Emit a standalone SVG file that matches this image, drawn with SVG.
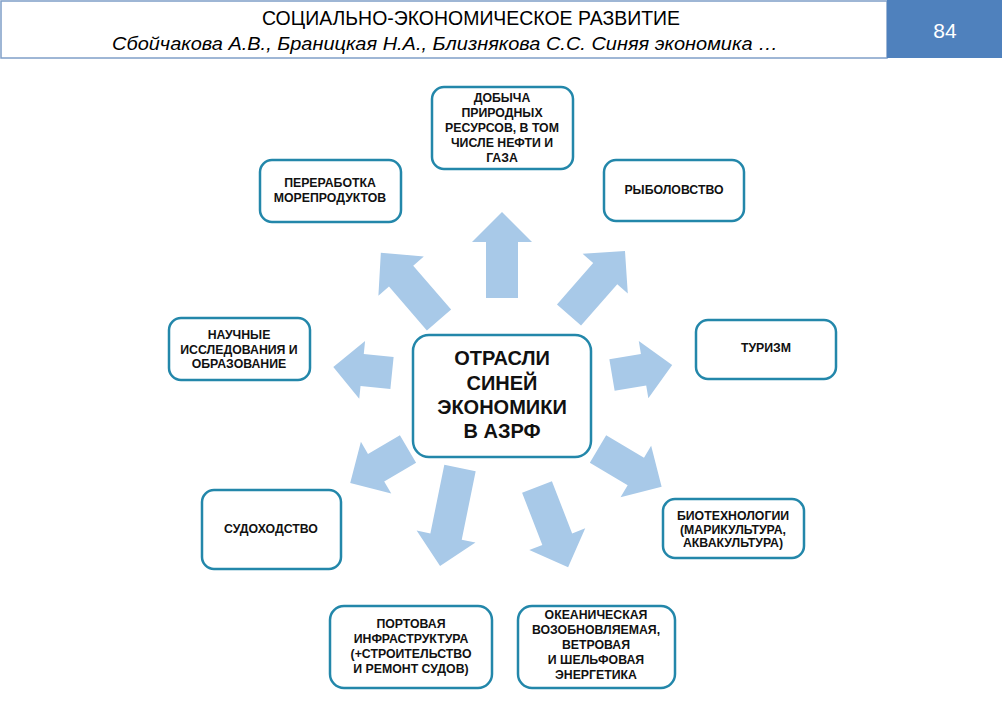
<svg xmlns="http://www.w3.org/2000/svg" width="1002" height="706" viewBox="0 0 1002 706">
<style>
.bx{fill:#fff;stroke:#2387AA;stroke-width:2.5}
.t{font-family:"Liberation Sans",Arial,sans-serif;font-weight:bold;font-size:12.3px;fill:#111;text-anchor:middle}
.tc{font-family:"Liberation Sans",Arial,sans-serif;font-weight:bold;font-size:20px;fill:#111;text-anchor:middle}
.ar{fill:#A8C9E8}
</style>
<rect width="1002" height="706" fill="#fff"/>
<g id="header">
<rect x="1" y="1" width="886" height="57" fill="#fff" stroke="#7F9FC8" stroke-width="1.5"/>
<rect x="887" y="0" width="115" height="58" fill="#4F81BD"/>
<text x="471" y="25" font-family="'Liberation Sans',Arial,sans-serif" font-size="20" fill="#000" text-anchor="middle" textLength="418" lengthAdjust="spacingAndGlyphs">СОЦИАЛЬНО-ЭКОНОМИЧЕСКОЕ РАЗВИТИЕ</text>
<text x="445" y="50" font-family="'Liberation Sans',Arial,sans-serif" font-size="18" font-style="italic" fill="#000" text-anchor="middle" textLength="666" lengthAdjust="spacingAndGlyphs">Сбойчакова А.В., Браницкая Н.А., Близнякова С.С. Синяя экономика …</text>
<text x="945" y="38" font-family="'Liberation Sans',Arial,sans-serif" font-size="21" fill="#fff" text-anchor="middle">84</text>
</g>
<g id="connectors">
<path class="ar" transform="translate(502,298) rotate(-90)" d="M0,-16 H56 V-30 L86,0 L56,30 V16 H0 Z"/>
<path class="ar" transform="translate(439,320) rotate(-130.8)" d="M0,-16 H58 V-30 L89,0 L58,30 V16 H0 Z"/>
<path class="ar" transform="translate(569,315) rotate(-48.8)" d="M0,-16 H55 V-30 L85,0 L55,30 V16 H0 Z"/>
<path class="ar" transform="translate(392,373) rotate(-174.2)" d="M0,-16 H30 V-29 L59,0 L30,29 V16 H0 Z"/>
<path class="ar" transform="translate(612,375) rotate(-9.5)" d="M0,-16 H32 V-29 L61,0 L32,29 V16 H0 Z"/>
<path class="ar" transform="translate(408,449) rotate(149.6)" d="M0,-16 H37 V-30 L67,0 L37,30 V16 H0 Z"/>
<path class="ar" transform="translate(460,468) rotate(101.5)" d="M0,-16 H70 V-30 L100,0 L70,30 V16 H0 Z"/>
<path class="ar" transform="translate(537,487) rotate(68.8)" d="M0,-16 H56 V-30 L86,0 L56,30 V16 H0 Z"/>
<path class="ar" transform="translate(598,449) rotate(30.7)" d="M0,-16 H44 V-30 L74,0 L44,30 V16 H0 Z"/>
</g>
<g id="center">
<rect class="bx" x="413" y="335" width="178" height="122" rx="16"/>
<text class="tc" x="502" y="365">ОТРАСЛИ</text>
<text class="tc" x="502" y="390">СИНЕЙ</text>
<text class="tc" x="502" y="414">ЭКОНОМИКИ</text>
<text class="tc" x="502" y="438">В АЗРФ</text>
</g>
<g id="dobycha">
<rect class="bx" x="432" y="87" width="141" height="82" rx="12"/>
<text class="t" x="502" y="102">ДОБЫЧА</text>
<text class="t" x="502" y="117">ПРИРОДНЫХ</text>
<text class="t" x="502" y="132">РЕСУРСОВ, В ТОМ</text>
<text class="t" x="502" y="147">ЧИСЛЕ НЕФТИ И</text>
<text class="t" x="502" y="162">ГАЗА</text>
</g>
<g id="pererabotka">
<rect class="bx" x="260" y="160" width="141" height="62" rx="12"/>
<text class="t" x="330" y="187">ПЕРЕРАБОТКА</text>
<text class="t" x="330" y="202">МОРЕПРОДУКТОВ</text>
</g>
<g id="rybolovstvo">
<rect class="bx" x="604" y="160" width="140" height="61" rx="12"/>
<text class="t" x="674" y="194">РЫБОЛОВСТВО</text>
</g>
<g id="nauka">
<rect class="bx" x="169" y="318" width="141" height="62" rx="12"/>
<text class="t" x="239" y="339">НАУЧНЫЕ</text>
<text class="t" x="239" y="354">ИССЛЕДОВАНИЯ И</text>
<text class="t" x="239" y="368">ОБРАЗОВАНИЕ</text>
</g>
<g id="turizm">
<rect class="bx" x="696" y="320" width="140" height="59" rx="12"/>
<text class="t" x="766" y="352">ТУРИЗМ</text>
</g>
<g id="sudokhodstvo">
<rect class="bx" x="202" y="490" width="139" height="79" rx="12"/>
<text class="t" x="271" y="533">СУДОХОДСТВО</text>
</g>
<g id="biotekh">
<rect class="bx" x="663" y="499" width="141" height="59" rx="12"/>
<text class="t" x="733" y="520">БИОТЕХНОЛОГИИ</text>
<text class="t" x="733" y="534">(МАРИКУЛЬТУРА,</text>
<text class="t" x="733" y="547">АКВАКУЛЬТУРА)</text>
</g>
<g id="port">
<rect class="bx" x="330" y="606" width="162" height="82" rx="14"/>
<text class="t" x="411" y="628">ПОРТОВАЯ</text>
<text class="t" x="411" y="643">ИНФРАСТРУКТУРА</text>
<text class="t" x="411" y="658">(+СТРОИТЕЛЬСТВО</text>
<text class="t" x="411" y="673">И РЕМОНТ СУДОВ)</text>
</g>
<g id="energetika">
<rect class="bx" x="518" y="606" width="157" height="82" rx="14"/>
<text class="t" x="596" y="619">ОКЕАНИЧЕСКАЯ</text>
<text class="t" x="596" y="634">ВОЗОБНОВЛЯЕМАЯ,</text>
<text class="t" x="596" y="649">ВЕТРОВАЯ</text>
<text class="t" x="596" y="664">И ШЕЛЬФОВАЯ</text>
<text class="t" x="596" y="679">ЭНЕРГЕТИКА</text>
</g>
</svg>
